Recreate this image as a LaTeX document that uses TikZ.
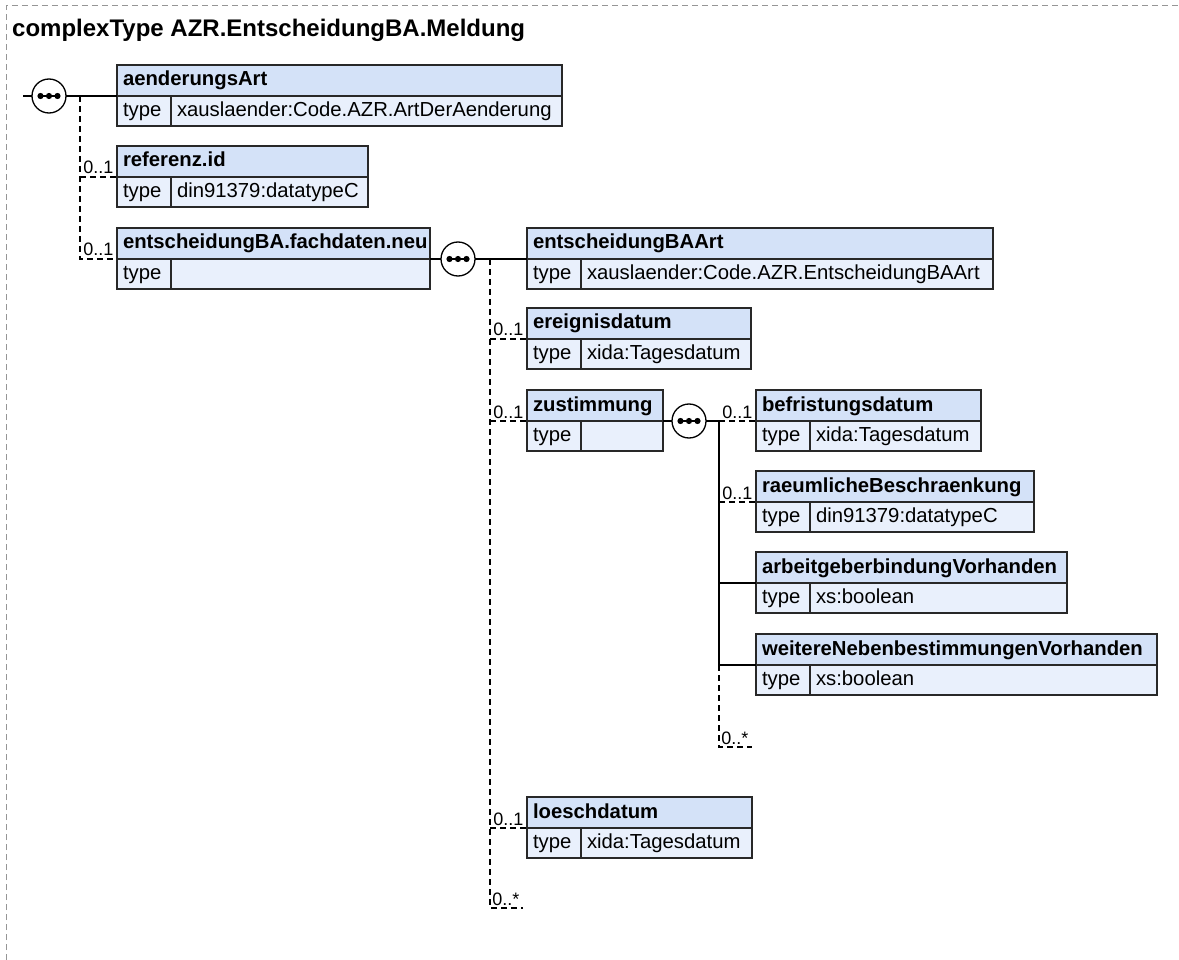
\documentclass[tikz,border=0pt]{standalone}
\usepackage{fontspec}
\setmainfont{Liberation Sans}
\usetikzlibrary{positioning, calc}
\definecolor{hdrfill}{RGB}{212,226,248}
\definecolor{rowfill}{RGB}{233,240,252}
\definecolor{boxline}{RGB}{40,40,40}
\definecolor{framegray}{RGB}{150,150,150}

\begin{document}
\begin{tikzpicture}[
    x=1pt, y=-1pt,
    every node/.style={font=\fontsize{20.3}{24}\selectfont},
    hdr/.style={rectangle, draw=boxline, line width=1.3pt, fill=hdrfill, font=\fontsize{20.3}{24}\selectfont\bfseries, anchor=north west, outer sep=0pt, inner xsep=6pt, inner ysep=0pt, text width=#1, align=left, minimum height=31pt, text height=15pt, text depth=4pt},
    cell/.style={rectangle, draw=boxline, line width=1.3pt, fill=rowfill, anchor=north west, outer sep=0pt, inner xsep=6pt, inner ysep=0pt, text width=#1, align=left, minimum height=30pt, text height=15pt, text depth=4pt},
    seq/.style={circle, draw=black, line width=1.3pt, fill=white, minimum size=34pt, inner sep=0pt, outer sep=0pt,
        path picture={
            \draw[black, line width=1.2pt] ([xshift=-9pt]path picture bounding box.center) -- ([xshift=9pt]path picture bounding box.center);
            \foreach \d in {-8.5,0,8.5} \fill[black] ([xshift=\d pt]path picture bounding box.center) circle (3.1pt);
        }},
    conn/.style={line width=1.3pt},
    opt/.style={line width=1.3pt, dash pattern=on 6pt off 4pt},
    mult/.style={font=\fontsize{18}{20}\selectfont, inner sep=0pt, anchor=base east, xshift=-3pt, yshift=3pt}
]
\useasboundingbox (0,0) rectangle (1179,960);

% --- frame and title ---
\draw[framegray, line width=1pt, dash pattern=on 6pt off 4pt] (6,960) -- (6,6) -- (1179,6);
\node[anchor=base west, inner sep=0pt, font=\fontsize{24}{28}\selectfont\bfseries] (title) at (12,37) {complexType AZR.EntscheidungBA.Meldung};

% --- root sequence ---
\node[seq] (seq1) at (49,96) {};
\coordinate (in1) at (23,96);
\coordinate (bus1) at (80,96);

\node[hdr=433pt] (aend) at (117,65) {aenderungsArt};
\node[cell=42pt] (aend-t) at (aend.south west) {type};
\node[cell=379pt] (aend-v) at (aend-t.north east) {xauslaender:Code.AZR.ArtDerAenderung};

\node[hdr=239pt] (ref) at (117,146) {referenz.id};
\node[cell=42pt] (ref-t) at (ref.south west) {type};
\node[cell=185pt] (ref-v) at (ref-t.north east) {din91379:datatypeC};

\node[hdr=301pt] (fach) at (117,228) {entscheidungBA.fachdaten.neu};
\node[cell=42pt] (fach-t) at (fach.south west) {type};
\node[cell=247pt] (fach-v) at (fach-t.north east) {};

% --- fachdaten sequence ---
\node[seq] (seq2) at (458,259) {};
\coordinate (bus2) at (490,259);
\coordinate (end2) at (523,908);

\node[hdr=454pt] (art) at (527,228) {entscheidungBAArt};
\node[cell=42pt] (art-t) at (art.south west) {type};
\node[cell=400pt] (art-v) at (art-t.north east) {xauslaender:Code.AZR.EntscheidungBAArt};

\node[hdr=212pt] (ereig) at (527,308) {ereignisdatum};
\node[cell=42pt] (ereig-t) at (ereig.south west) {type};
\node[cell=158pt] (ereig-v) at (ereig-t.north east) {xida:Tagesdatum};

\node[hdr=124pt] (zust) at (527,390) {zustimmung};
\node[cell=42pt] (zust-t) at (zust.south west) {type};
\node[cell=70pt] (zust-v) at (zust-t.north east) {};

\node[hdr=213pt] (loesch) at (527,797) {loeschdatum};
\node[cell=42pt] (loesch-t) at (loesch.south west) {type};
\node[cell=159pt] (loesch-v) at (loesch-t.north east) {xida:Tagesdatum};

% --- zustimmung sequence ---
\node[seq] (seq3) at (689,421) {};
\coordinate (bus3) at (719,421);
\coordinate (end3) at (752,747);

\node[hdr=213pt] (befr) at (756,390) {befristungsdatum};
\node[cell=42pt] (befr-t) at (befr.south west) {type};
\node[cell=159pt] (befr-v) at (befr-t.north east) {xida:Tagesdatum};

\node[hdr=266pt] (raeum) at (756,471) {raeumlicheBeschraenkung};
\node[cell=42pt] (raeum-t) at (raeum.south west) {type};
\node[cell=212pt] (raeum-v) at (raeum-t.north east) {din91379:datatypeC};

\node[hdr=299pt] (arb) at (756,552) {arbeitgeberbindungVorhanden};
\node[cell=42pt] (arb-t) at (arb.south west) {type};
\node[cell=245pt] (arb-v) at (arb-t.north east) {xs:boolean};

\node[hdr=389pt] (weit) at (756,634) {weitereNebenbestimmungenVorhanden};
\node[cell=42pt] (weit-t) at (weit.south west) {type};
\node[cell=335pt] (weit-v) at (weit-t.north east) {xs:boolean};

% --- connections ---
\draw[conn] (in1) -- (seq1.west);
\draw[conn] (seq1.east) -- (aend.south west);
\draw[opt] (bus1 |- ref.south west) -- (ref.south west) node[mult] {0..1};
\draw[opt] (bus1) |- (fach.south west) node[mult] {0..1};

\draw[conn] (fach.south east) -- (seq2.west);
\draw[conn] (seq2.east) -- (art.south west);
\draw[opt] (bus2 |- ereig.south west) -- (ereig.south west) node[mult] {0..1};
\draw[opt] (bus2 |- zust.south west) -- (zust.south west) node[mult] {0..1};
\draw[opt] (bus2 |- loesch.south west) -- (loesch.south west) node[mult] {0..1};
\draw[opt] (bus2) |- (end2) node[mult] {0..*};

\draw[conn] (zust.south east) -- (seq3.west);
\draw[conn] (seq3.east) -- (bus3);
\draw[opt] (bus3) -- (befr.south west) node[mult] {0..1};
\draw[opt] (bus3 |- raeum.south west) -- (raeum.south west) node[mult] {0..1};
\draw[conn] (bus3) -- (bus3 |- weit.south west) -- (weit.south west);
\draw[conn] (bus3 |- arb.south west) -- (arb.south west);
\draw[opt] (bus3 |- weit.south west) |- (end3) node[mult] {0..*};
\end{tikzpicture}
\end{document}
